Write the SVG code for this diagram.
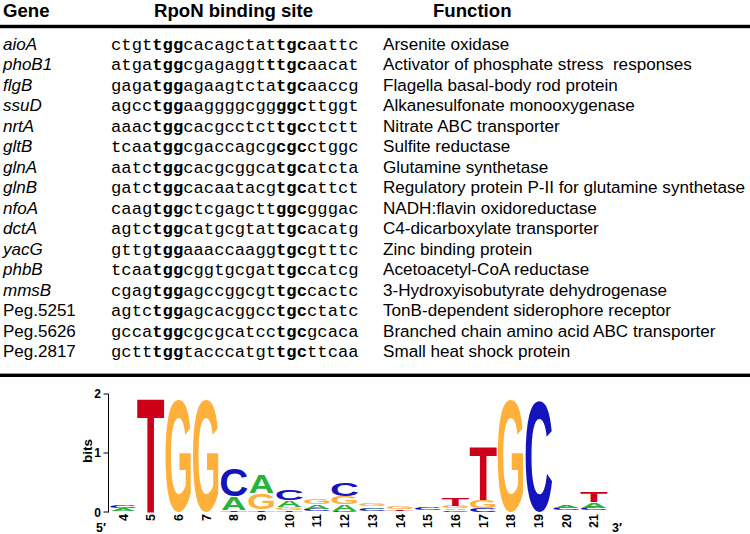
<svg xmlns="http://www.w3.org/2000/svg" width="750" height="534" viewBox="0 0 750 534">
<style>
.hd{font-family:"Liberation Sans",Arial,sans-serif;font-weight:bold;font-size:18.6px;fill:#000}
.gn{font-family:"Liberation Sans",Arial,sans-serif;font-style:italic;font-size:17px;fill:#000}
.pg{font-family:"Liberation Sans",Arial,sans-serif;font-size:17px;fill:#000}
.sq{font-family:"Liberation Mono","Courier New",monospace;font-size:17.2px;fill:#000}
.sq tspan{font-weight:bold}
.fn{font-family:"Liberation Sans",Arial,sans-serif;font-size:17.1px;fill:#000}
.ax{font-family:"Liberation Sans",Arial,sans-serif;font-weight:bold;fill:#000}
.lg text{font-family:"Liberation Sans",Arial,sans-serif;font-weight:bold;font-size:100px;text-anchor:middle}
.T{fill:#CC0018}.G{fill:#FFB03B}.C{fill:#1414BE}.A{fill:#27B33C}
</style>
<rect width="750" height="534" fill="#fff"/>
<g id="header">
<text class="hd" x="3" y="16.5">Gene</text>
<text class="hd" x="154" y="16.5">RpoN binding site</text>
<text class="hd" x="433" y="16.5">Function</text>
</g>
<g id="rules">
<rect x="0" y="24.8" width="750" height="3.4" fill="#000"/>
<rect x="0" y="373.6" width="750" height="3.4" fill="#000"/>
</g>
<g id="row-aioA"><text class="gn" x="3" y="49.5">aioA</text><text class="sq" x="111" y="49.5">ctgt<tspan>tgg</tspan>cacagctat<tspan>tgc</tspan>aattc</text><text class="fn" x="383" y="49.5">Arsenite oxidase</text></g>
<g id="row-phoB1"><text class="gn" x="3" y="70">phoB1</text><text class="sq" x="111" y="70">atga<tspan>tgg</tspan>cgagaggt<tspan>ttgc</tspan>aacat</text><text class="fn" x="383" y="70" xml:space="preserve">Activator of phosphate stress  responses</text></g>
<g id="row-flgB"><text class="gn" x="3" y="90.5">flgB</text><text class="sq" x="111" y="90.5">gaga<tspan>tgg</tspan>agaagtcta<tspan>tgc</tspan>aaccg</text><text class="fn" x="383" y="90.5">Flagella basal-body rod protein</text></g>
<g id="row-ssuD"><text class="gn" x="3" y="111">ssuD</text><text class="sq" x="111" y="111">agcc<tspan>tgg</tspan>aaggggcgg<tspan>ggc</tspan>ttggt</text><text class="fn" x="383" y="111">Alkanesulfonate monooxygenase</text></g>
<g id="row-nrtA"><text class="gn" x="3" y="131.5">nrtA</text><text class="sq" x="111" y="131.5">aaac<tspan>tgg</tspan>cacgcctct<tspan>tgc</tspan>ctctt</text><text class="fn" x="383" y="131.5">Nitrate ABC transporter</text></g>
<g id="row-gltB"><text class="gn" x="3" y="152">gltB</text><text class="sq" x="111" y="152">tcaa<tspan>tgg</tspan>cgaccagcg<tspan>cgc</tspan>ctggc</text><text class="fn" x="383" y="152">Sulfite reductase</text></g>
<g id="row-glnA"><text class="gn" x="3" y="172.5">glnA</text><text class="sq" x="111" y="172.5">aatc<tspan>tgg</tspan>cacgcggca<tspan>tgc</tspan>atcta</text><text class="fn" x="383" y="172.5">Glutamine synthetase</text></g>
<g id="row-glnB"><text class="gn" x="3" y="193">glnB</text><text class="sq" x="111" y="193">gatc<tspan>tgg</tspan>cacaatacg<tspan>tgc</tspan>attct</text><text class="fn" x="383" y="193">Regulatory protein P-II for glutamine synthetase</text></g>
<g id="row-nfoA"><text class="gn" x="3" y="213.5">nfoA</text><text class="sq" x="111" y="213.5">caag<tspan>tgg</tspan>ctcgagctt<tspan>ggc</tspan>gggac</text><text class="fn" x="383" y="213.5">NADH:flavin oxidoreductase</text></g>
<g id="row-dctA"><text class="gn" x="3" y="234">dctA</text><text class="sq" x="111" y="234">agtc<tspan>tgg</tspan>catgcgtat<tspan>tgc</tspan>acatg</text><text class="fn" x="383" y="234">C4-dicarboxylate transporter</text></g>
<g id="row-yacG"><text class="gn" x="3" y="254.5">yacG</text><text class="sq" x="111" y="254.5">gttg<tspan>tgg</tspan>aaaccaagg<tspan>tgc</tspan>gtttc</text><text class="fn" x="383" y="254.5">Zinc binding protein</text></g>
<g id="row-phbB"><text class="gn" x="3" y="275">phbB</text><text class="sq" x="111" y="275">tcaa<tspan>tgg</tspan>cggtgcgat<tspan>tgc</tspan>catcg</text><text class="fn" x="383" y="275">Acetoacetyl-CoA reductase</text></g>
<g id="row-mmsB"><text class="gn" x="3" y="295.5">mmsB</text><text class="sq" x="111" y="295.5">cgag<tspan>tgg</tspan>agccggcgt<tspan>tgc</tspan>cactc</text><text class="fn" x="383" y="295.5">3-Hydroxyisobutyrate dehydrogenase</text></g>
<g id="row-peg5251"><text class="pg" x="3" y="316">Peg.5251</text><text class="sq" x="111" y="316">agtc<tspan>tgg</tspan>agcacggcc<tspan>tgc</tspan>ctatc</text><text class="fn" x="383" y="316">TonB-dependent siderophore receptor</text></g>
<g id="row-peg5626"><text class="pg" x="3" y="336.5">Peg.5626</text><text class="sq" x="111" y="336.5">gcca<tspan>tgg</tspan>cgcgcatcc<tspan>tgc</tspan>gcaca</text><text class="fn" x="383" y="336.5">Branched chain amino acid ABC transporter</text></g>
<g id="row-peg2817"><text class="pg" x="3" y="357">Peg.2817</text><text class="sq" x="111" y="357">gctt<tspan>tgg</tspan>tacccatgt<tspan>tgc</tspan>ttcaa</text><text class="fn" x="383" y="357">Small heat shock protein</text></g>
<g id="logo-axis">
<path d="M108.5 394V512.5M103.5 394H108.5M103.5 453H108.5M103.5 512H108.5" stroke="#000" stroke-width="1" fill="none"/>
<text class="ax" font-size="12" x="101" y="398" text-anchor="end">2</text>
<text class="ax" font-size="12" x="101" y="457" text-anchor="end">1</text>
<text class="ax" font-size="12" x="101" y="516.5" text-anchor="end">0</text>
<text class="ax" font-size="13.5" text-anchor="middle" transform="translate(91.5,451) rotate(-90)">bits</text>
<text class="ax" font-size="12.5" x="96" y="532">5′</text>
<text class="ax" font-size="12.5" x="612" y="532">3′</text>
</g>
<g id="logo-positions" class="ax" font-size="12.5" text-anchor="end">
<text transform="translate(127.5,514) rotate(-90)">4</text>
<text transform="translate(155.2,514) rotate(-90)">5</text>
<text transform="translate(182.9,514) rotate(-90)">6</text>
<text transform="translate(210.6,514) rotate(-90)">7</text>
<text transform="translate(238.3,514) rotate(-90)">8</text>
<text transform="translate(266,514) rotate(-90)">9</text>
<text transform="translate(293.7,514) rotate(-90)">10</text>
<text transform="translate(321.4,514) rotate(-90)">11</text>
<text transform="translate(349.1,514) rotate(-90)">12</text>
<text transform="translate(376.8,514) rotate(-90)">13</text>
<text transform="translate(404.5,514) rotate(-90)">14</text>
<text transform="translate(432.2,514) rotate(-90)">15</text>
<text transform="translate(459.9,514) rotate(-90)">16</text>
<text transform="translate(487.6,514) rotate(-90)">17</text>
<text transform="translate(515.3,514) rotate(-90)">18</text>
<text transform="translate(543,514) rotate(-90)">19</text>
<text transform="translate(570.7,514) rotate(-90)">20</text>
<text transform="translate(598.4,514) rotate(-90)">21</text>
</g>
<g id="logo-letters" class="lg">
<text class="C" y="-1.2" transform="translate(123,508) scale(0.403,0.034)">C</text>
<text class="A" transform="translate(123,511) scale(0.353,0.035)">A</text>
<text class="T" transform="translate(150.7,512) scale(0.456,1.634)">T</text>
<text class="G" y="-1.2" transform="translate(178.4,512) scale(0.373,1.568)">G</text>
<text class="G" y="-1.2" transform="translate(206.1,512) scale(0.373,1.568)">G</text>
<text class="T" transform="translate(233.8,512) scale(0.456,0.024)">T</text>
<text class="A" transform="translate(233.8,510) scale(0.353,0.182)">A</text>
<text class="C" y="-1.2" transform="translate(233.8,496) scale(0.403,0.392)">C</text>
<text class="T" transform="translate(261.5,512) scale(0.456,0.024)">T</text>
<text class="G" y="-1.2" transform="translate(261.5,509.5) scale(0.373,0.223)">G</text>
<text class="A" transform="translate(261.5,492.5) scale(0.353,0.258)">A</text>
<text class="T" transform="translate(289.2,512) scale(0.456,0.021)">T</text>
<text class="G" y="-1.2" transform="translate(289.2,510) scale(0.373,0.034)">G</text>
<text class="A" transform="translate(289.2,507) scale(0.353,0.084)">A</text>
<text class="C" y="-1.2" transform="translate(289.2,500.5) scale(0.403,0.155)">C</text>
<text class="C" y="-1.2" transform="translate(316.9,511.5) scale(0.403,0.034)">C</text>
<text class="A" transform="translate(316.9,508.5) scale(0.353,0.056)">A</text>
<text class="G" y="-1.2" transform="translate(316.9,504) scale(0.373,0.068)">G</text>
<text class="C" y="-1.2" transform="translate(344.6,512) scale(0.403,0.016)">C</text>
<text class="A" transform="translate(344.6,510.5) scale(0.353,0.084)">A</text>
<text class="G" y="-1.2" transform="translate(344.6,504) scale(0.373,0.101)">G</text>
<text class="C" y="-1.2" transform="translate(344.6,496) scale(0.403,0.176)">C</text>
<text class="C" y="-1.2" transform="translate(372.3,511) scale(0.403,0.027)">C</text>
<text class="A" transform="translate(372.3,508.7) scale(0.353,0.024)">A</text>
<text class="G" y="-1.2" transform="translate(372.3,506.5) scale(0.373,0.034)">G</text>
<text class="T" transform="translate(400,511) scale(0.456,0.017)">T</text>
<text class="G" y="-1.2" transform="translate(400,509.5) scale(0.373,0.027)">G</text>
<text class="C" y="-1.2" transform="translate(427.7,510.5) scale(0.403,0.034)">C</text>
<text class="C" y="-1.2" transform="translate(455.4,511.7) scale(0.403,0.023)">C</text>
<text class="A" transform="translate(455.4,510) scale(0.353,0.018)">A</text>
<text class="G" y="-1.2" transform="translate(455.4,508.5) scale(0.373,0.034)">G</text>
<text class="T" transform="translate(455.4,505.8) scale(0.456,0.102)">T</text>
<text class="C" y="-1.2" transform="translate(483.1,511.7) scale(0.403,0.05)">C</text>
<text class="G" y="-1.2" transform="translate(483.1,507.7) scale(0.373,0.104)">G</text>
<text class="T" transform="translate(483.1,499.5) scale(0.456,0.751)">T</text>
<text class="G" y="-1.2" transform="translate(510.8,512) scale(0.373,1.568)">G</text>
<text class="C" y="-1.2" transform="translate(538.5,512) scale(0.403,1.554)">C</text>
<text class="C" y="-1.2" transform="translate(566.2,510.5) scale(0.403,0.027)">C</text>
<text class="A" transform="translate(566.2,508.3) scale(0.353,0.039)">A</text>
<text class="C" y="-1.2" transform="translate(593.9,510.5) scale(0.403,0.038)">C</text>
<text class="A" transform="translate(593.9,507.5) scale(0.353,0.077)">A</text>
<text class="T" transform="translate(593.9,501.5) scale(0.456,0.14)">T</text>
</g>
</svg>
